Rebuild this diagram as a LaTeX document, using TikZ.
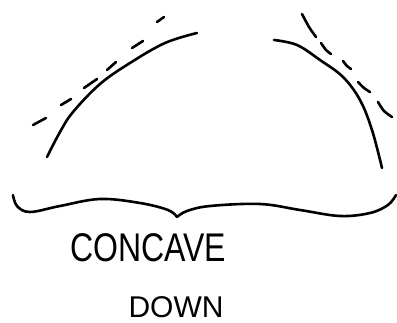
\documentclass[tikz,border=0pt]{standalone}
\usepackage{fontspec}
\setmainfont{Liberation Sans}
\begin{document}
\begin{tikzpicture}[x=1pt,y=-1pt,
  curve/.style={line width=2.6pt,line cap=round,line join=round},
  tangent/.style={line width=2.6pt,line cap=round},
  hand/.style={font=\fontsize{40}{40}\selectfont,inner sep=0pt}]
\useasboundingbox (0,0) rectangle (397,323);
% left curve
\draw[curve] plot[smooth,tension=0.6] coordinates {(47,157) (60,132) (73,112) (100,84) (130,63) (165,43) (197,33)};
% left tangent dashes
\draw[tangent] (33,125) -- (46,118);
\draw[tangent] (61,105) -- (71,99);
\draw[tangent] (84,88) -- (97,79);
\draw[tangent] (107,70) -- (116,62);
\draw[tangent] (132,48) -- (143,41);
\draw[tangent] (157,22) -- (164,17);
% right curve
\draw[curve] plot[smooth,tension=0.6] coordinates {(274,40) (297,45) (320,60) (343,77) (360,100) (372,130) (382,168)};
% right tangent dashes
\draw[tangent] plot[smooth] coordinates {(302,14) (309,27) (316,37)};
\draw[tangent] plot[smooth] coordinates {(321,43) (326,50) (331,54)};
\draw[tangent] plot[smooth] coordinates {(343,61) (347,66) (351,69)};
\draw[tangent] plot[smooth] coordinates {(358,82) (364,88) (370,92)};
\draw[tangent] plot[smooth] coordinates {(378,102) (384,111) (392,117)};
% brace
\draw[curve] plot[smooth,tension=0.6] coordinates {(13,195) (17,206) (30,212) (60,206) (100,199) (140,203) (168,210) (177,217)};
\draw[curve] plot[smooth,tension=0.6] coordinates {(177,217) (187,211) (210,206) (260,204) (300,210) (340,216) (370,213) (388,205) (396,195)};
% labels
\node[hand,xscale=0.8] (concave) at (148,248) {CONCAVE};
\node[hand,xscale=0.75,yscale=0.75] (down) at (176,307) {DOWN};
\end{tikzpicture}
\end{document}
